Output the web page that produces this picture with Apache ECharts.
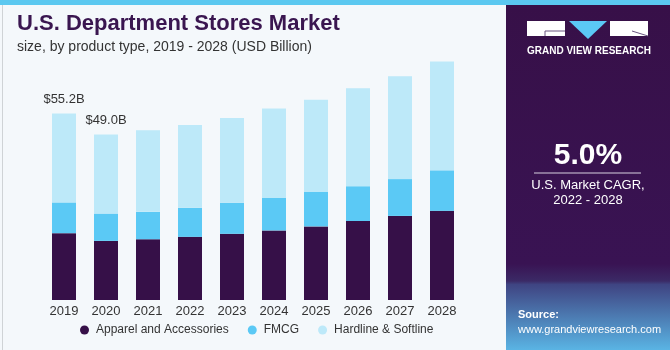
<!DOCTYPE html>
<html>
<head>
<meta charset="utf-8">
<script src="https://cdn.jsdelivr.net/npm/echarts@6/dist/echarts.min.js"></script>
<style>
html,body{margin:0;padding:0;background:#f4f8fb;}
#main{width:670px;height:350px;}
</style>
</head>
<body>
<div id="main"></div>
<script>
var years = ['2019','2020','2021','2022','2023','2024','2025','2026','2027','2028'];
var apparel = [19.8,17.5,18.0,18.7,19.6,20.6,21.8,23.4,24.9,26.4];
var fmcg = [9.1,8.1,8.1,8.6,9.2,9.6,10.2,10.3,10.9,12.0];
var hardline = [26.3,23.4,24.2,24.5,25.1,26.5,27.3,29.0,30.5,32.2];
var totalLabels = ['$55.2B','$49.0B','','','','','','','',''];

var chart = echarts.init(document.getElementById('main'));
var font = 'Liberation Sans, Arial, sans-serif';
var option = {
  backgroundColor: '#f4f8fb',
  animation: false,
  grid: {left: 43, right: 207, top: 40, bottom: 50},
  xAxis: {
    type: 'category', data: years,
    axisLine: {show: false}, axisTick: {show: false},
    axisLabel: {color: '#333', fontSize: 13, fontFamily: font, margin: 5}
  },
  yAxis: {type: 'value', min: 0, max: 77, show: false, splitLine: {show: false}},
  legend: {
    bottom: 9, left: 75, itemWidth: 9, itemHeight: 9, itemGap: 19, icon: 'circle',
    textStyle: {color: '#333', fontSize: 12, fontFamily: font, padding: [0,0,0,2]},
    data: ['Apparel and Accessories','FMCG','Hardline & Softline']
  },
  series: [
    {name: 'Apparel and Accessories', type: 'bar', stack: 't', barWidth: 24, data: apparel, itemStyle: {color: '#361048'}},
    {name: 'FMCG', type: 'bar', stack: 't', data: fmcg, itemStyle: {color: '#5bc9f5'}},
    {name: 'Hardline & Softline', type: 'bar', stack: 't', data: hardline, itemStyle: {color: '#bde9f9'},
      label: {show: true, position: 'top', distance: 8, color: '#333', fontSize: 13, fontFamily: font,
        formatter: function(p){return totalLabels[p.dataIndex];}}}
  ],
  graphic: [
    {type: 'rect', left: 0, top: 0, shape: {width: 670, height: 5}, style: {fill: '#5bc8f0'}, z: 10},
    {type: 'rect', left: 0, top: 0, shape: {width: 669, height: 349}, style: {fill: 'none', stroke: '#cfd3d6', lineWidth: 1}, z: 9},
    {type: 'text', left: 17, top: 13, style: {text: 'U.S. Department Stores Market', fill: '#3a1650', font: 'bold 22px ' + font}, z: 10},
    {type: 'text', left: 17, top: 40, style: {text: 'size, by product type, 2019 - 2028 (USD Billion)', fill: '#333', font: '14px ' + font}, z: 10},
    {type: 'rect', left: 506, top: 5, shape: {width: 164, height: 345},
      style: {fill: new echarts.graphic.LinearGradient(0,0,0,1,[
        {offset:0,color:'#371048'},{offset:0.75,color:'#391353'},{offset:0.80,color:'#3b2a66'},{offset:0.81,color:'#3f4482'},{offset:1,color:'#5ab4e4'}])}, z: 10},
    {type: 'rect', left: 527, top: 21, shape: {width: 38, height: 15}, style: {fill: '#ffffff'}, z: 11},
    {type: 'line', shape: {x1: 545, y1: 31, x2: 565, y2: 31}, style: {stroke: '#6a5580', lineWidth: 1}, z: 12},
    {type: 'line', shape: {x1: 545, y1: 31, x2: 545, y2: 36}, style: {stroke: '#6a5580', lineWidth: 1}, z: 12},
    {type: 'polygon', shape: {points: [[569,21],[607,21],[588,39]]}, style: {fill: '#5bc8f5'}, z: 11},
    {type: 'rect', left: 610, top: 21, shape: {width: 38, height: 15}, style: {fill: '#ffffff'}, z: 11},
    {type: 'line', shape: {x1: 632, y1: 31, x2: 648, y2: 36}, style: {stroke: '#6a5580', lineWidth: 1}, z: 12},
    {type: 'text', left: 527, top: 46, style: {text: 'GRAND VIEW RESEARCH', fill: '#ffffff', font: 'bold 10px ' + font}, z: 11},
    {type: 'text', x: 588, y: 156, style: {text: '5.0%', fill: '#ffffff', font: 'bold 30px ' + font, textAlign: 'center', textVerticalAlign: 'middle'}, z: 11},
    {type: 'line', shape: {x1: 534, y1: 173, x2: 641, y2: 173}, style: {stroke: '#d8d0e0', lineWidth: 1}, z: 11},
    {type: 'text', x: 588, y: 185, style: {text: 'U.S. Market CAGR,', fill: '#ffffff', font: '13px ' + font, textAlign: 'center', textVerticalAlign: 'middle'}, z: 11},
    {type: 'text', x: 588, y: 200, style: {text: '2022 - 2028', fill: '#ffffff', font: '13px ' + font, textAlign: 'center', textVerticalAlign: 'middle'}, z: 11},
    {type: 'text', left: 518, top: 309, style: {text: 'Source:', fill: '#ffffff', font: 'bold 11px ' + font}, z: 11},
    {type: 'text', left: 518, top: 324, style: {text: 'www.grandviewresearch.com', fill: '#ffffff', font: '11px ' + font}, z: 11}
  ]
};
chart.setOption(option);
</script>
</body>
</html>
